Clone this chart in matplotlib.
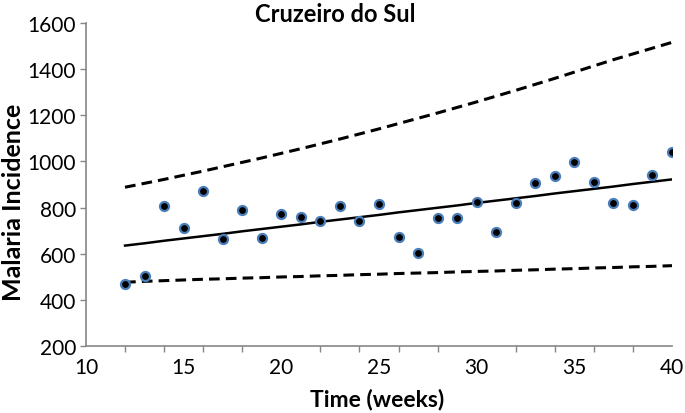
import matplotlib
matplotlib.use('Agg')
import matplotlib.pyplot as plt
from matplotlib.ticker import MultipleLocator

plt.rcParams['font.family'] = ['Lato', 'DejaVu Sans']

weeks = list(range(12, 41))
incidence = [469, 503, 807, 710, 870, 662, 791, 667, 773, 758, 741, 807, 741, 817,
             672, 602, 753, 753, 825, 694, 820, 908, 935, 999, 911, 818, 810, 941, 1041]
trend = [635, 645, 656, 666, 676, 686, 697, 707, 717, 727, 738, 748, 758, 768, 779,
         789, 799, 809, 820, 830, 840, 850, 861, 871, 881, 891, 902, 912, 922]
upper = [888, 905, 922, 940, 958, 977, 996, 1015, 1035, 1055, 1076, 1097, 1119, 1141,
         1164, 1187, 1210, 1234, 1258, 1283, 1308, 1334, 1360, 1387, 1414, 1441, 1466,
         1491, 1516]
lower = [476, 480, 483, 486, 489, 491, 494, 496, 499, 501, 504, 506, 509, 511, 514,
         516, 518, 521, 523, 525, 528, 530, 533, 535, 538, 540, 543, 545, 548]

fig = plt.figure(figsize=(6.85, 4.14), dpi=100)
ax = fig.add_axes([0.1255, 0.162, 0.8555, 0.780])

ax.plot(weeks, upper, color='black', lw=2.2, ls=(0, (3.5, 2)))
ax.plot(weeks, lower, color='black', lw=2.2, ls=(0, (3.5, 2)))
ax.plot(weeks, trend, color='black', lw=1.8)
ax.plot(weeks, incidence, ls='none', marker='o', ms=6.5, mfc='black',
        mec='#4a7ebb', mew=1.6)

ax.set_xlim(10, 40)
ax.set_ylim(200, 1600)
ax.xaxis.set_major_locator(MultipleLocator(5))
ax.xaxis.set_minor_locator(MultipleLocator(2))
ax.yaxis.set_major_locator(MultipleLocator(200))
ax.tick_params(axis='x', which='major', length=0, labelsize=15, pad=8)
ax.tick_params(axis='x', which='minor', length=4, width=1, color='#868686')
ax.tick_params(axis='y', length=4, width=1, color='#868686', labelsize=15, pad=3)

for s in ['top', 'right']:
    ax.spines[s].set_visible(False)
for s in ['left', 'bottom']:
    ax.spines[s].set_color('#868686')
    ax.spines[s].set_linewidth(1.2)

fig.text(335 / 685, 1 - 14 / 414, 'Cruzeiro do Sul', ha='center', va='center',
         fontsize=17, fontweight='bold')
fig.text(377 / 685, 1 - 400 / 414, 'Time (weeks)', ha='center', va='center',
         fontsize=16.5, fontweight='bold')
fig.text(14 / 685, 1 - 202 / 414, 'Malaria Incidence', ha='center', va='center',
         rotation=90, fontsize=18, fontweight='bold')

plt.savefig('out.png', dpi=100)
